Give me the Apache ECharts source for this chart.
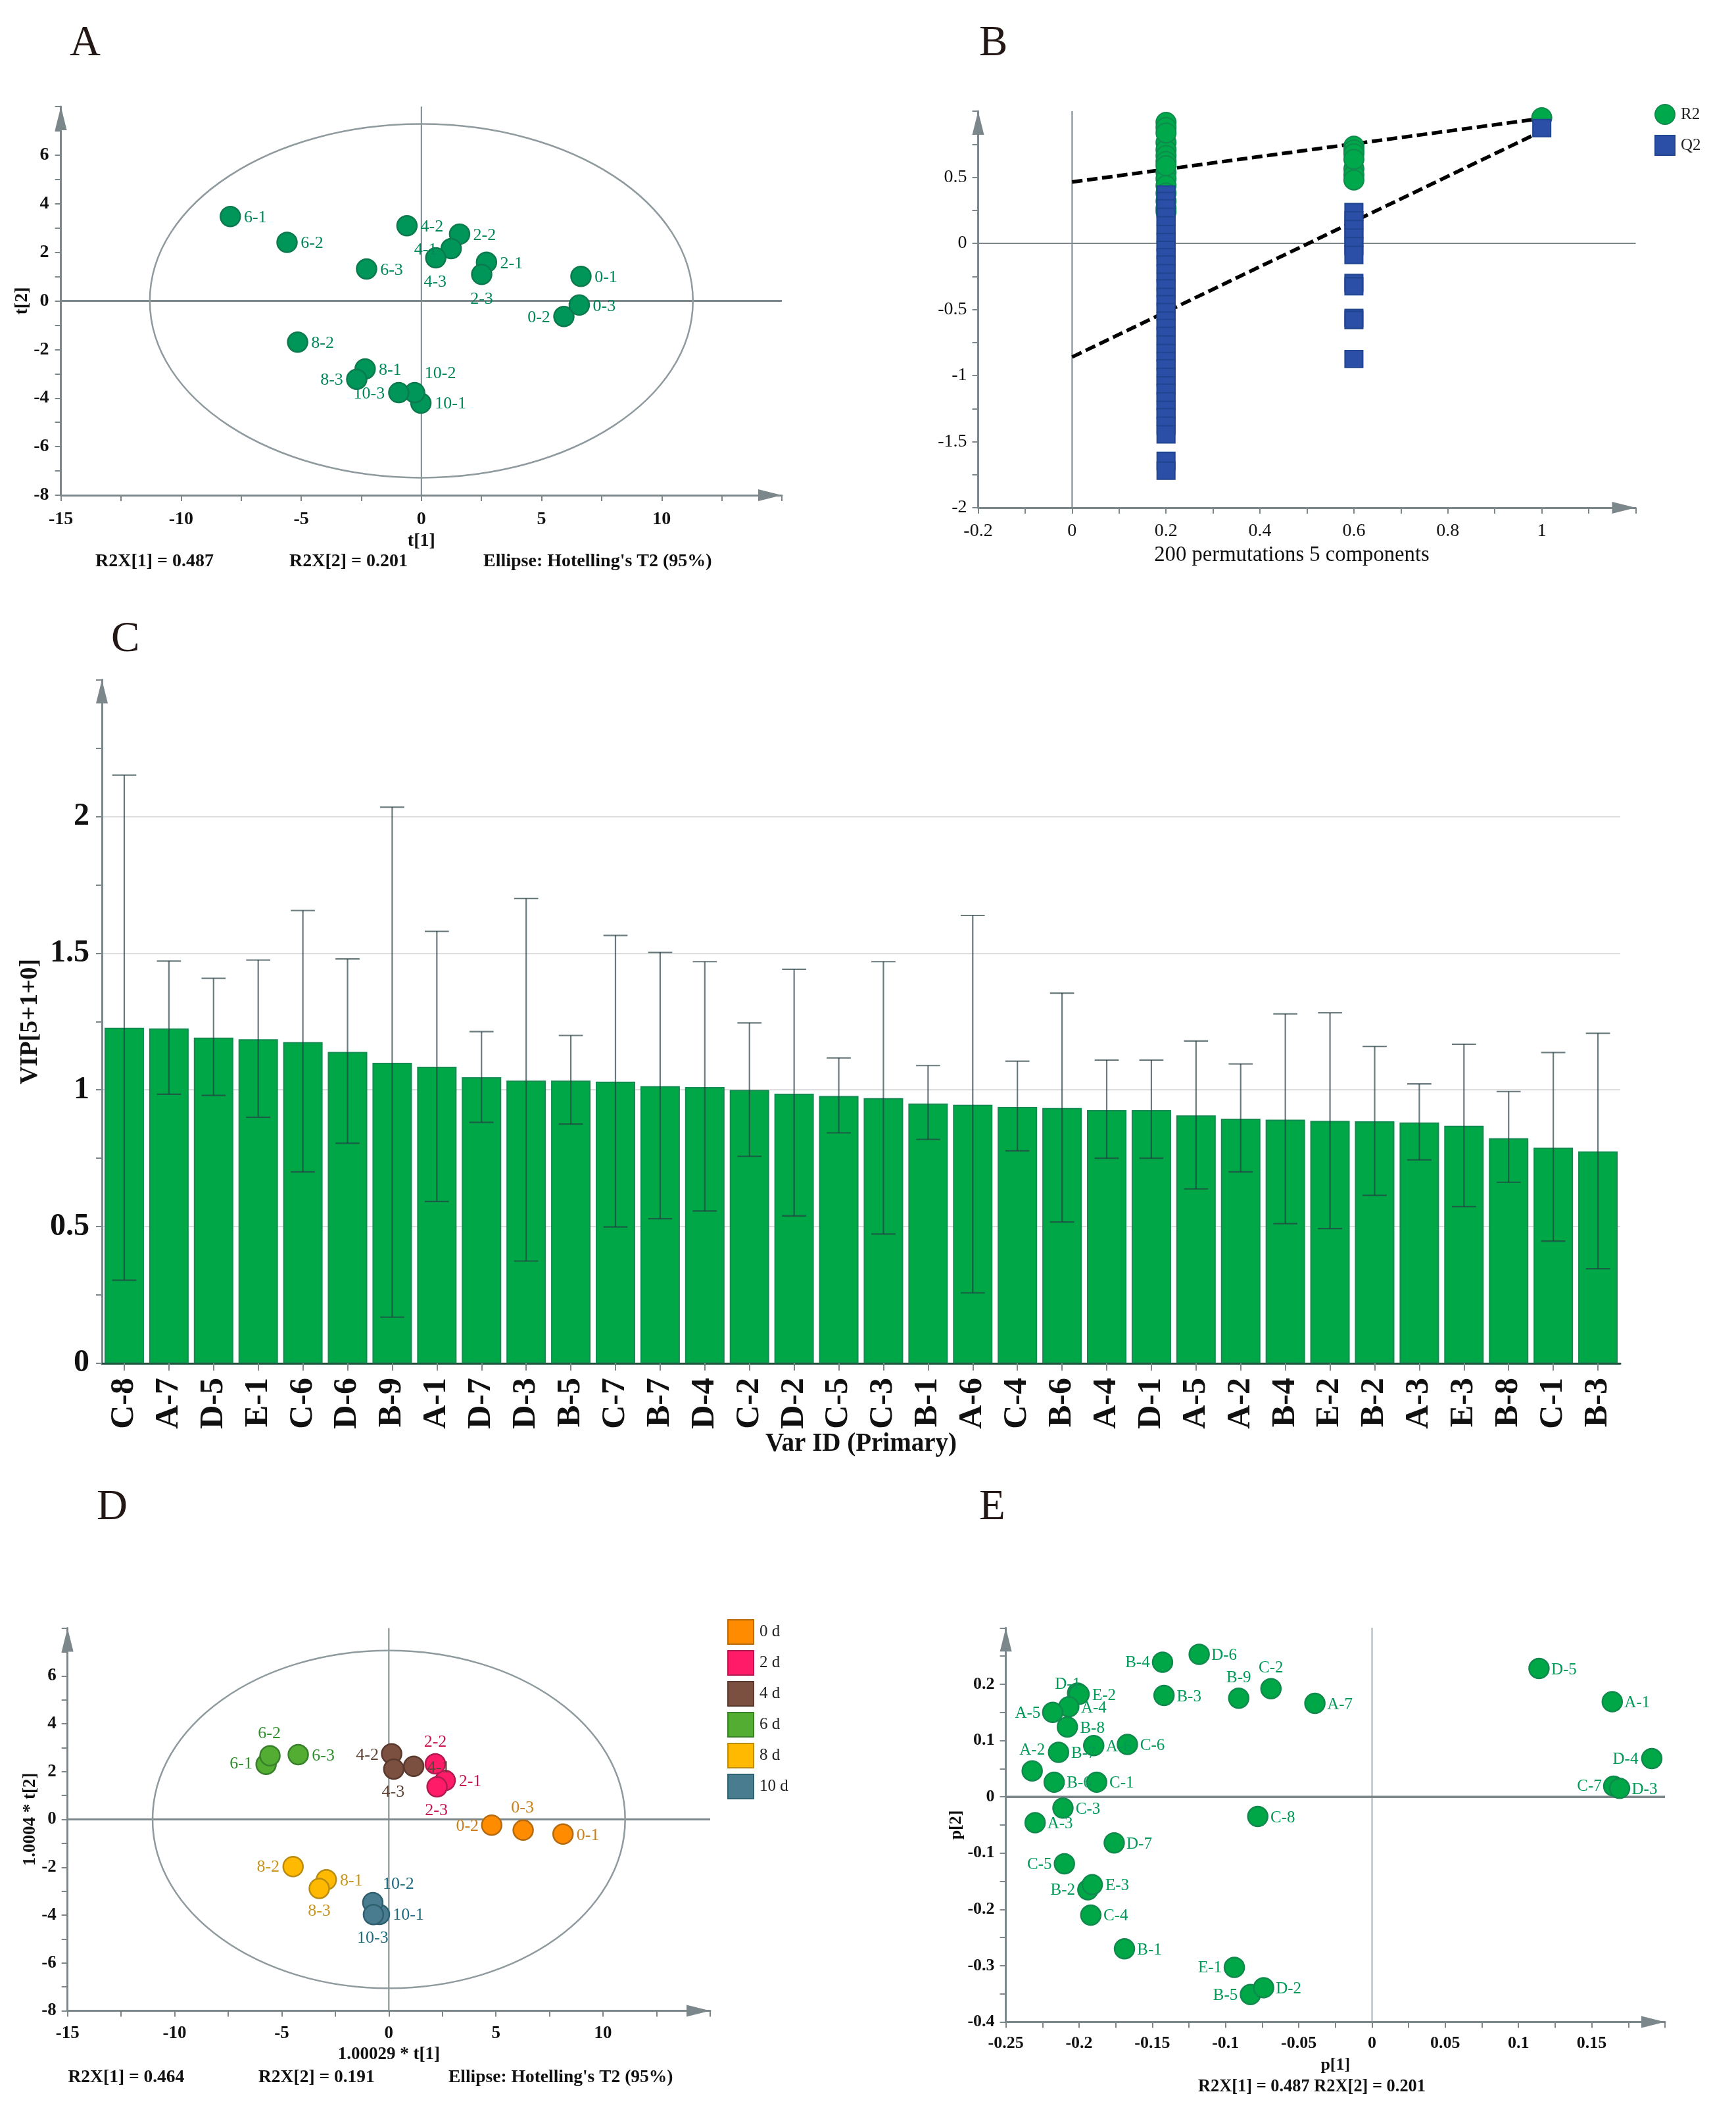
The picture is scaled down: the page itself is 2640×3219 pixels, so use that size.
<!DOCTYPE html>
<html><head><meta charset="utf-8">
<script src="https://cdn.jsdelivr.net/npm/echarts@6/dist/echarts.min.js"></script>
<style>html,body{margin:0;padding:0;background:#fff}#c{width:2640px;height:3219px}</style>
</head><body><div id="c"></div>
<script>
// ---------- Panel A (score plot) ----------
const aNames=['0-1','0-2','0-3','2-1','2-2','2-3','4-1','4-2','4-3','6-1','6-2','6-3','8-1','8-2','8-3','10-1','10-2','10-3'];
const aX=[6.64,5.93,6.57,2.71,1.59,2.51,1.24,-0.6,0.6,-7.95,-5.59,-2.28,-2.34,-5.15,-2.69,-0.02,-0.28,-0.94];
const aY=[1.01,-0.64,-0.17,1.59,2.75,1.09,2.15,3.09,1.77,3.47,2.41,1.31,-2.8,-1.7,-3.23,-4.21,-3.78,-3.78];
const aEllipse=[11.3,7.28];
// ---------- Panel B (permutation test) ----------
const bR2at02=[0.915,0.877,0.763,0.707,0.664,0.62,0.536,0.49,0.436,0.38,0.32,0.265,0.24,0.835,0.587];
const bR2at06=[0.735,0.706,0.678,0.564,0.52,0.479,0.635];
const bR2at1=[0.95];
const bQ2at02=[0.37,0.32,0.265,0.2,0.137,0.07,0.01,-0.05,-0.105,-0.16,-0.225,-0.29,-0.34,-0.405,-0.46,-0.52,-0.585,-0.64,-0.7,-0.765,-0.83,-0.89,-0.945,-1.01,-1.075,-1.13,-1.195,-1.26,-1.315,-1.38,-1.445,-1.645,-1.72];
const bQ2at06=[0.236,0.174,0.108,0.043,-0.02,-0.088,-0.3,-0.325,-0.564,-0.58,-0.875];
const bQ2at1=[0.872];
const bR2Fit=[[0,0.464],[1,0.945]];
const bQ2Fit=[[0,-0.86],[1,0.849]];
// ---------- Panel C (VIP bars) ----------
const cCats=['C-8','A-7','D-5','E-1','C-6','D-6','B-9','A-1','D-7','D-3','B-5','C-7','B-7','D-4','C-2','D-2','C-5','C-3','B-1','A-6','C-4','B-6','A-4','D-1','A-5','A-2','B-4','E-2','B-2','A-3','E-3','B-8','C-1','B-3'];
const cVip=[1.227,1.225,1.191,1.185,1.175,1.139,1.099,1.085,1.046,1.034,1.034,1.03,1.014,1.01,1.0,0.986,0.978,0.97,0.95,0.946,0.938,0.934,0.926,0.926,0.907,0.895,0.891,0.887,0.885,0.881,0.869,0.823,0.789,0.775];
const cHigh=[2.151,1.471,1.408,1.475,1.656,1.479,2.034,1.58,1.213,1.7,1.199,1.565,1.503,1.469,1.245,1.441,1.117,1.469,1.089,1.638,1.105,1.354,1.109,1.109,1.179,1.095,1.278,1.282,1.159,1.022,1.167,0.994,1.137,1.207];
const cLow=[0.304,0.984,0.98,0.9,0.7,0.805,0.169,0.592,0.881,0.374,0.875,0.499,0.529,0.557,0.757,0.539,0.843,0.473,0.819,0.258,0.777,0.517,0.75,0.75,0.638,0.7,0.511,0.493,0.614,0.744,0.573,0.662,0.447,0.346];
// ---------- Panel D (score plot by day) ----------
const dGroups=['0 d','2 d','4 d','6 d','8 d','10 d'];
const dNames=['0-1','0-2','0-3','2-1','2-2','2-3','4-1','4-2','4-3','6-1','6-2','6-3','8-1','8-2','8-3','10-1','10-2','10-3'];
const dX=[8.13,4.8,6.27,2.63,2.17,2.25,1.16,0.13,0.23,-5.73,-5.55,-4.23,-2.92,-4.47,-3.25,-0.44,-0.75,-0.72];
const dY=[-0.61,-0.24,-0.45,1.63,2.32,1.36,2.22,2.74,2.1,2.3,2.66,2.71,-2.52,-1.97,-2.89,-3.97,-3.48,-3.98];
const dEllipse=[11.03,7.06];
// ---------- Panel E (loading plot) ----------
const eNames=['D-5','A-1','D-4','C-7','D-3','D-6','B-4','C-2','B-9','A-7','B-3','D-1','E-2','A-4','A-5','B-8','A-6','C-6','B-7','A-2','B-6','C-1','C-3','A-3','C-8','D-7','C-5','B-2','E-3','C-4','B-1','E-1','B-5','D-2'];
const eX=[0.114,0.164,0.191,0.165,0.169,-0.118,-0.143,-0.069,-0.091,-0.039,-0.142,-0.201,-0.2,-0.207,-0.218,-0.208,-0.19,-0.167,-0.214,-0.232,-0.217,-0.188,-0.211,-0.23,-0.078,-0.176,-0.21,-0.194,-0.191,-0.192,-0.169,-0.094,-0.083,-0.074];
const eY=[0.228,0.169,0.068,0.019,0.015,0.253,0.239,0.192,0.175,0.166,0.18,0.184,0.182,0.16,0.15,0.124,0.091,0.093,0.079,0.046,0.026,0.026,-0.02,-0.046,-0.035,-0.082,-0.119,-0.165,-0.156,-0.21,-0.27,-0.303,-0.351,-0.339];
// ---------- Text ----------
const panelLetters=['A','B','C','D','E'];
const footerA=['R2X[1] = 0.487','R2X[2] = 0.201',"Ellipse: Hotelling's T2 (95%)"];
const footerD=['R2X[1] = 0.464','R2X[2] = 0.191',"Ellipse: Hotelling's T2 (95%)"];
const footerE='R2X[1] = 0.487 R2X[2] = 0.201';

// ---------- Label placement (styling only, px from the marker centre) ----------
const aOff={'0-2':[-38,2],'2-3':[0,38],'4-1':[-39,2],'4-3':[-1,37],'8-3':[-38,1],'10-1':[45,1],'10-2':[39,-29],'10-3':[-45,2]};
const dOff={'0-2':[-37,2],'0-3':[-1,-34],'2-2':[0,-33],'2-3':[-1,36],'4-2':[-37,2],'4-3':[-1,35],'6-1':[-38,-1],'6-2':[-1,-34],'8-2':[-38,1],'8-3':[0,35],'10-1':[44,1],'10-2':[39,-28],'10-3':[-1,36]};
const eOff={'D-4':[-40,2],'C-7':[-37,1],'B-4':[-38,1],'C-2':[0,-31],'B-9':[0,-31],'D-1':[-15,-13],'A-5':[-38,2],'A-2':[0,-31],'C-5':[-38,1],'B-2':[-38,1],'E-1':[-37,1],'B-5':[-38,2]};
const defOff=[38,2];

const SERIF='"Liberation Serif","Times New Roman",serif';
const AX='#7c878b';

function valAxis(gridIndex,min,max,interval,name,o){
  return {type:'value',gridIndex,min,max,interval,name,nameLocation:'middle',nameGap:o.gap,
    nameTextStyle:Object.assign({fontFamily:SERIF,fontSize:o.nameSize||o.size,fontWeight:o.bold===false?'normal':'bold',color:'#111'},o.namePad?{padding:o.namePad}:{}),
    axisLine:{show:true,onZero:false,symbol:['none','triangle'],symbolSize:[18,36],symbolOffset:[0,-18],lineStyle:{color:AX,width:3}},
    axisTick:{show:true,length:9,lineStyle:{color:AX,width:2}},
    minorTick:{show:true,splitNumber:2,length:9,lineStyle:{color:AX,width:2}},
    splitLine:{show:false},minorSplitLine:{show:false},
    axisLabel:{show:true,margin:o.margin,fontFamily:SERIF,fontSize:o.size,fontWeight:o.bold===false?'normal':'bold',color:'#111',
      formatter:v=>Math.abs(v-max)<1e-9?'':String(v)}};
}
function guides(idx,ell,hw,vw){
  return {type:'custom',xAxisIndex:idx,yAxisIndex:idx,z:1,silent:true,clip:false,data:[ell||[0,0]],
    renderItem(params,api){
      const cs=params.coordSys,o=api.coord([0,0]),kids=[
        {type:'line',shape:{x1:cs.x,y1:o[1],x2:cs.x+cs.width,y2:o[1]},style:{stroke:AX,lineWidth:hw}},
        {type:'line',shape:{x1:o[0],y1:cs.y,x2:o[0],y2:cs.y+cs.height},style:{stroke:AX,lineWidth:vw}}];
      if(ell){const s=api.size([api.value(0),api.value(1)]);
        kids.push({type:'ellipse',shape:{cx:o[0],cy:o[1],rx:s[0],ry:s[1]},style:{fill:'none',stroke:'#8f9a9e',lineWidth:2.5}});}
      return {type:'group',children:kids};
    }};
}
function pts(names,xs,ys){
  return names.map((n,i)=>({name:n,value:[xs[i],ys[i]]}));
}
function scatter(idx,name,data,off,fill,border,txt,fs){
  return {type:'scatter',name,xAxisIndex:idx,yAxisIndex:idx,z:3,data,symbol:'circle',symbolSize:30,
    itemStyle:{color:fill,opacity:1,borderColor:border,borderWidth:2.5},
    label:{show:true,position:'inside',formatter:'{b}',align:'center',verticalAlign:'middle',color:txt,fontFamily:SERIF,fontSize:fs||26},
    labelLayout(p){const d=off[data[p.dataIndex].name]||defOff;return {dx:d[0],dy:d[1],hideOverlap:false};},
    emphasis:{disabled:true}};
}
const dFill=['#ff8c00','#ff1b68','#7c5040','#52ad32','#ffb900','#4a7c8f'];
const dBorder=['#b56a10','#b01a50','#5a3a2e','#38802a','#b98c10','#2f6070'];
const dText=['#c8801e','#c8174f','#5e4335','#2f8f2b','#c8961e','#1f6b7e'];
const prefixes=['0-','2-','4-','6-','8-','10-'];

const series=[
  guides(0,aEllipse,3,2),
  scatter(0,'scores',pts(aNames,aX,aY),aOff,'#00965a','#0b7a4d','#00875a'),
  guides(1,null,2,2),
  {type:'line',xAxisIndex:1,yAxisIndex:1,z:2,data:bR2Fit,symbol:'none',silent:true,lineStyle:{color:'#000',width:5.5,type:[16,7]}},
  {type:'line',xAxisIndex:1,yAxisIndex:1,z:2,data:bQ2Fit,symbol:'none',silent:true,lineStyle:{color:'#000',width:5.5,type:[16,7]}},
  {type:'scatter',name:'R2',xAxisIndex:1,yAxisIndex:1,z:3,symbol:'circle',symbolSize:30,
   data:[...bR2at02.map(v=>[0.2,v]),...bR2at06.map(v=>[0.6,v]),...bR2at1.map(v=>[1,v])],
   itemStyle:{color:'#00a84c',opacity:1,borderColor:'#0f8a4c',borderWidth:2}},
  {type:'scatter',name:'Q2',xAxisIndex:1,yAxisIndex:1,z:4,symbol:'rect',symbolSize:[27,26],
   data:[...bQ2at02.map(v=>[0.2,v]),...bQ2at06.map(v=>[0.6,v]),...bQ2at1.map(v=>[1,v])],
   itemStyle:{color:'#2b4ea6',opacity:1,borderColor:'#1f4590',borderWidth:2}},
  {type:'bar',xAxisIndex:2,yAxisIndex:2,z:2,barWidth:60,data:cVip,
   itemStyle:{color:'#00a747',borderColor:'#128a50',borderWidth:2}},
  {type:'custom',xAxisIndex:2,yAxisIndex:2,z:4,silent:true,data:cCats.map((c,i)=>[i,cHigh[i],cLow[i]]),
   renderItem(params,api){
     const i=api.value(0),hi=api.coord([i,api.value(1)]),lo=api.coord([i,api.value(2)]),w=api.size([1,0])[0]*0.27;
     const st={stroke:'rgba(35,60,65,0.68)',lineWidth:2.2};
     return {type:'group',children:[
       {type:'line',shape:{x1:hi[0],y1:hi[1],x2:lo[0],y2:lo[1]},style:st},
       {type:'line',shape:{x1:hi[0]-w,y1:hi[1],x2:hi[0]+w,y2:hi[1]},style:st},
       {type:'line',shape:{x1:lo[0]-w,y1:lo[1],x2:lo[0]+w,y2:lo[1]},style:st}]};
   }},
  guides(3,dEllipse,3,2),
  ...dGroups.map((g,k)=>{
    const items=pts(dNames,dX,dY).filter(p=>p.name.startsWith(prefixes[k]));
    return scatter(3,g,items,dOff,dFill[k],dBorder[k],dText[k]);
  }),
  guides(4,null,3.5,1.5),
  scatter(4,'loadings',pts(eNames,eX,eY),eOff,'#00a747','#0f8a4c','#009a58',25)
];

const cX={type:'category',gridIndex:2,data:cCats,name:'Var ID (Primary)',nameLocation:'middle',nameGap:100,
  nameTextStyle:{fontFamily:SERIF,fontSize:39,fontWeight:'bold',color:'#111'},
  axisLine:{show:true,onZero:false,lineStyle:{color:'#1d4a38',width:3}},
  axisTick:{show:true,alignWithLabel:true,interval:0,length:11,lineStyle:{color:AX,width:2}},
  splitLine:{show:false},
  axisLabel:{show:true,interval:0,rotate:90,margin:22,fontFamily:SERIF,fontSize:50,fontWeight:'bold',color:'#111'}};
const cY=valAxis(2,0,2.5,0.5,'VIP[5+1+0]',{gap:71,size:48,nameSize:38,margin:19});
cY.splitLine={show:true,showMinLine:false,showMaxLine:false,lineStyle:{color:'#dedede',width:2}};

function t(text,x,y,font,align,fill){
  return {type:'text',x,y,silent:true,style:{text,x:0,y:0,font,fill:fill||'#111',align:align||'left',verticalAlign:'middle'}};
}
const letterFont='65px '+SERIF,fA='bold 28px '+SERIF,fD='bold 27.5px '+SERIF,fE='bold 26.4px '+SERIF;
const graphicEls=[
  t(panelLetters[0],106,67,letterFont,'left','#231815'),
  t(panelLetters[1],1489,67,letterFont,'left','#231815'),
  t(panelLetters[2],169,973,letterFont,'left','#231815'),
  t(panelLetters[3],147,2293,letterFont,'left','#231815'),
  t(panelLetters[4],1489,2293,letterFont,'left','#231815'),
  t(footerA[0],145,854,fA),t(footerA[1],440,854,fA),t(footerA[2],735,854,fA),
  t(footerD[0],103.5,3159,fD),t(footerD[1],393,3159,fD),t(footerD[2],682,3159,fD),
  t(footerE,1995,3173,fE,'center')
];

const legendText={fontFamily:SERIF,fontSize:25,color:'#222',padding:[0,0,0,4]};
const option={
  animation:false,backgroundColor:'#fff',
  grid:[
    {left:92.6,top:162,width:1096.4,height:591,outerBoundsMode:'none'},
    {left:1487.5,top:169,width:1000,height:603,outerBoundsMode:'none'},
    {left:155,top:1033.6,width:2309,height:1039.4,outerBoundsMode:'none'},
    {left:102.7,top:2475.5,width:977.3,height:582,outerBoundsMode:'none'},
    {left:1529.6,top:2475.3,width:1002.4,height:599.3,outerBoundsMode:'none'}
  ],
  xAxis:[
    valAxis(0,-15,15,5,'t[1]',{gap:56,size:28,margin:23}),
    valAxis(1,-0.2,1.2,0.2,'200 permutations 5 components',{gap:56,size:28,nameSize:32.7,margin:22,bold:false,namePad:[0,46,0,0]}),
    cX,
    valAxis(3,-15,15,5,'1.00029 * t[1]',{gap:53,size:27,margin:21}),
    valAxis(4,-0.25,0.2,0.05,'p[1]',{gap:53,size:26,margin:19.5})
  ],
  yAxis:[
    valAxis(0,-8,8,2,'t[2]',{gap:32,size:28,margin:18}),
    valAxis(1,-2,1,0.5,'',{gap:40,size:28,margin:17,bold:false}),
    cY,
    valAxis(3,-8,8,2,'1.0004 * t[2]',{gap:35,size:27,margin:17}),
    valAxis(4,-0.4,0.3,0.1,'p[2]',{gap:55,size:26,margin:17})
  ],
  legend:[
    {data:['R2','Q2'],orient:'vertical',left:2516,top:158,padding:0,itemWidth:30,itemHeight:30,itemGap:15,selectedMode:false,textStyle:legendText},
    {data:dGroups,orient:'vertical',left:1106,top:2462,padding:0,itemWidth:39,itemHeight:37,itemGap:8,selectedMode:false,icon:'rect',textStyle:legendText}
  ],
  graphic:{elements:graphicEls},
  series
};
const chart=echarts.init(document.getElementById('c'),null,{renderer:'canvas',width:2640,height:3219,devicePixelRatio:1});
chart.setOption(option);
</script></body></html>
